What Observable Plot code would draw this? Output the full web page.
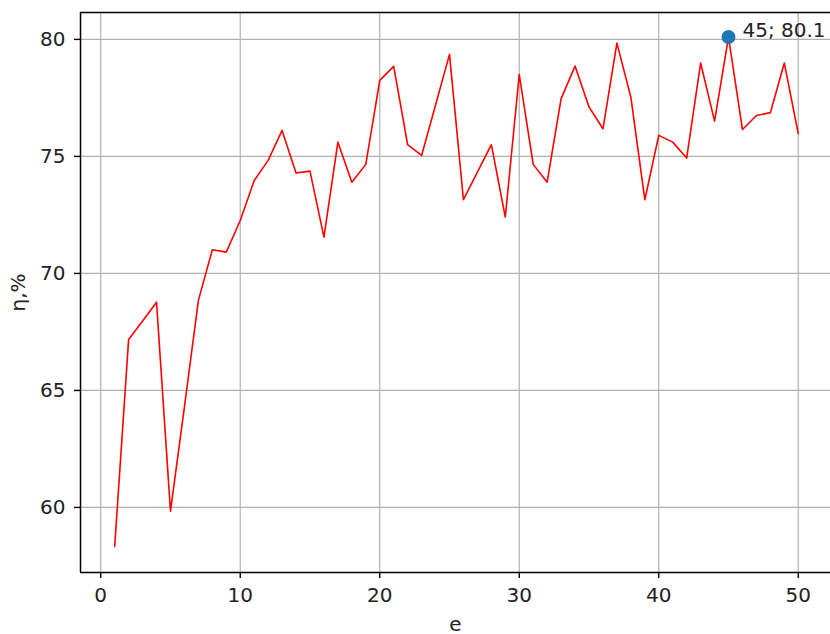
<!DOCTYPE html>
<html>
<head>
<meta charset="utf-8">
<script src="https://cdn.jsdelivr.net/npm/d3@7"></script>
<script src="https://cdn.jsdelivr.net/npm/@observablehq/plot@0.6"></script>
<style>
  html, body { margin: 0; padding: 0; background: #fff; }
  #chart svg { display: block; }
</style>
</head>
<body>
<div id="chart"></div>
<script>
const epochs = [1,2,3,4,5,6,7,8,9,10,11,12,13,14,15,16,17,18,19,20,21,22,23,24,25,26,27,28,29,30,31,32,33,34,35,36,37,38,39,40,41,42,43,44,45,46,47,48,49,50];
const eta = [58.33,67.18,67.97,68.77,59.84,64.3,68.85,71.01,70.91,72.26,
             73.97,74.83,76.11,74.29,74.37,71.55,75.61,73.90,74.66,78.25,
             78.85,75.50,75.04,77.2,79.36,73.15,74.33,75.50,72.41,78.50,
             74.66,73.90,77.47,78.86,77.11,76.18,79.84,77.53,73.15,75.90,
             75.61,74.93,78.99,76.51,80.1,76.15,76.75,76.87,78.99,75.97];
const xTicks = [0,10,20,30,40,50];
const yTicks = [60,65,70,75,80];
const best = [{e: 45, v: 80.1, label: "45; 80.1"}];

const data = epochs.map((e, i) => ({e, v: eta[i]}));
const xDomain = [-1.45, 52.31];
const yDomain = [57.22, 81.15];

const font = "DejaVu Sans, sans-serif";
const chart = Plot.plot({
  width: 830,
  height: 634,
  marginLeft: 80,
  marginRight: 0,
  marginTop: 12,
  marginBottom: 62,
  style: {fontFamily: font, fontSize: "20px", color: "#222", background: "#fff"},
  x: {domain: xDomain},
  y: {domain: yDomain},
  marks: [
    Plot.gridX(xTicks, {stroke: "#b0b0b0", strokeOpacity: 1, strokeWidth: 1.2}),
    Plot.gridY(yTicks, {stroke: "#b0b0b0", strokeOpacity: 1, strokeWidth: 1.2}),
    Plot.axisX(xTicks, {tickSize: 6, tickPadding: 9, stroke: "#000", strokeWidth: 1.4, fill: "#222", fontSize: 20,
      label: "e", labelAnchor: "center", labelArrow: "none", labelOffset: 58}),
    Plot.axisY(yTicks, {tickSize: 6, tickPadding: 9, stroke: "#000", strokeWidth: 1.4, fill: "#222", fontSize: 20,
      label: "η,%", labelAnchor: "center", labelArrow: "none", labelOffset: 70}),
    Plot.ruleX([xDomain[0]], {stroke: "#000", strokeWidth: 1.5}),
    Plot.ruleY([yDomain[0], yDomain[1]], {stroke: "#000", strokeWidth: 1.5}),
    Plot.line(data, {x: "e", y: "v", stroke: "#ff0000", strokeWidth: 1.6}),
    Plot.dot(best, {x: "e", y: "v", r: 7, fill: "#1f77b4", stroke: "none"}),
    Plot.text(best, {x: "e", y: "v", text: "label", dx: 14, dy: -6, textAnchor: "start", fill: "#222", fontSize: 20})
  ]
});
document.getElementById("chart").appendChild(chart);
</script>
</body>
</html>
